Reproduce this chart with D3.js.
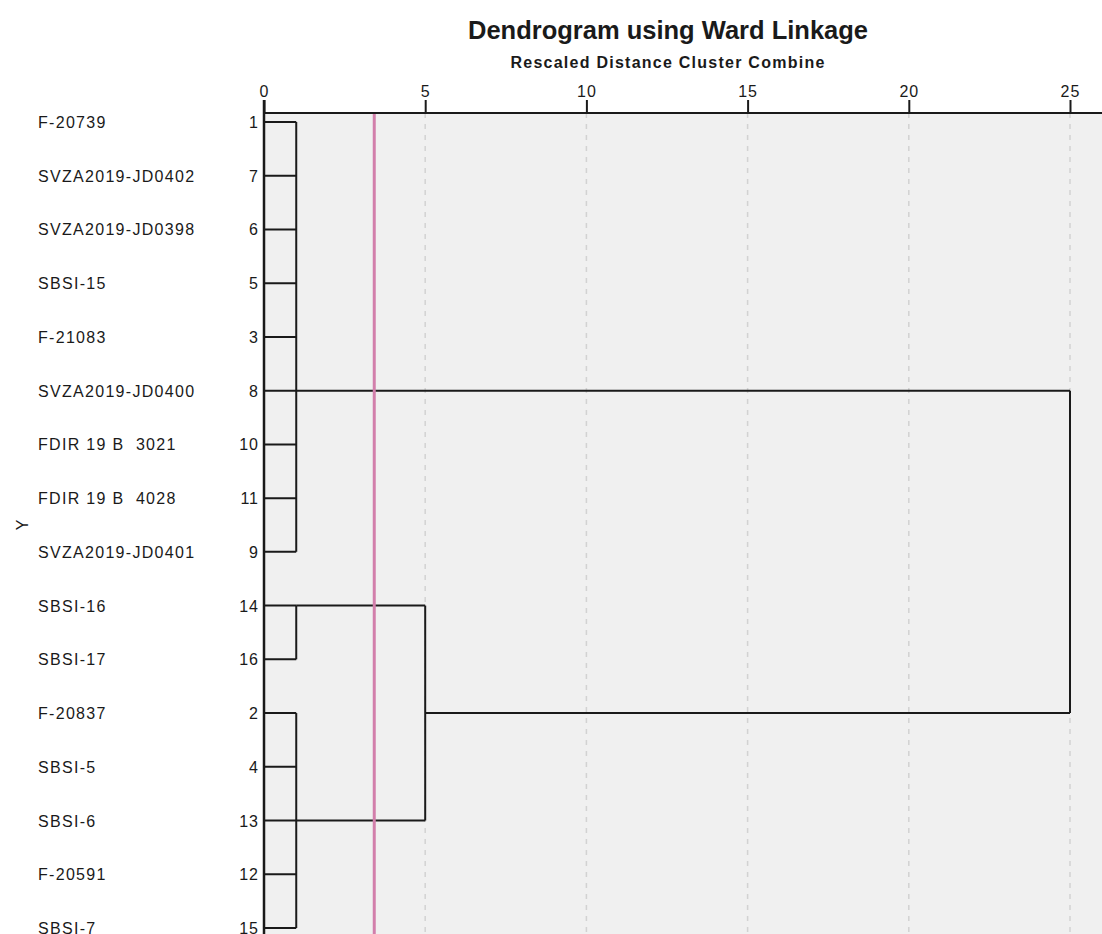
<!DOCTYPE html>
<html>
<head>
<meta charset="utf-8">
<script src="https://cdn.jsdelivr.net/npm/d3@7"></script>
<style>
  body { margin: 0; background: #fff; }
  text { font-family: "Liberation Sans", Arial, sans-serif; fill: #1a1a1a; white-space: pre; }
</style>
</head>
<body>
<div class="usable"></div>
<script>
// leaves, top to bottom
const leafLabels = ["F-20739", "SVZA2019-JD0402", "SVZA2019-JD0398", "SBSI-15", "F-21083",
    "SVZA2019-JD0400", "FDIR 19 B  3021", "FDIR 19 B  4028", "SVZA2019-JD0401",
    "SBSI-16", "SBSI-17", "F-20837", "SBSI-5", "SBSI-6", "F-20591", "SBSI-7"];
const caseNums = [1, 7, 6, 5, 3, 8, 10, 11, 9, 14, 16, 2, 4, 13, 12, 15];

// merges: children are leaf rows ("L") or earlier merges ("M")
const mergeChildren = [
    ["L0", "L1", "L2", "L3", "L4", "L5", "L6", "L7", "L8"],
    ["L9", "L10"],
    ["L11", "L12", "L13", "L14", "L15"],
    ["M1", "M2"],
    ["M0", "M3"]
];
const mergeDist = [1.0, 1.0, 1.0, 5.0, 25.0];
const mergeRow = [5, 9, 13, 11, null]; // row where the link leaves the cluster

const tickVals = [0, 5, 10, 15, 20, 25];
const cutDist = 3.42;

const W = 1102, H = 934;
const plotLeft = 264, plotTop = 113;

let svg = d3.select(".usable").append("svg")
    .attr("width", W)
    .attr("height", H);

let x = d3.scaleLinear().domain([0, 25]).range([plotLeft, 1070]);
let y = d3.scalePoint().domain(d3.range(leafLabels.length)).range([122, 928]);

// plot background
svg.append("rect")
    .attr("x", plotLeft).attr("y", plotTop)
    .attr("width", W - plotLeft).attr("height", H - plotTop)
    .attr("fill", "#f0f0f0");

// dashed grid
svg.append("g").selectAll("line")
    .data(tickVals.filter(d => d > 0))
    .join("line")
    .attr("x1", d => x(d)).attr("x2", d => x(d))
    .attr("y1", plotTop).attr("y2", H)
    .attr("stroke", "#d2d2d2")
    .attr("stroke-width", 1.5)
    .attr("stroke-dasharray", "5,6");

// top axis
let axis = svg.append("g")
    .attr("transform", `translate(0,${plotTop})`)
    .call(d3.axisTop(x).tickValues(tickVals).tickSize(13).tickPadding(3).tickSizeOuter(0));
axis.select(".domain").remove();
axis.selectAll(".tick line").attr("stroke", "#1a1a1a").attr("stroke-width", 2);
axis.selectAll(".tick text")
    .style("font-family", "'Liberation Sans', Arial, sans-serif")
    .style("font-size", "16px")
    .style("letter-spacing", "1px")
    .attr("fill", "#1a1a1a");

svg.append("line")
    .attr("x1", plotLeft).attr("x2", W)
    .attr("y1", plotTop).attr("y2", plotTop)
    .attr("stroke", "#1a1a1a").attr("stroke-width", 2);

// vertical axis line
svg.append("line")
    .attr("x1", plotLeft).attr("x2", plotLeft)
    .attr("y1", 100).attr("y2", H)
    .attr("stroke", "#1a1a1a").attr("stroke-width", 2.5);

// dendrogram links
let links = svg.append("g")
    .attr("fill", "none")
    .attr("stroke", "#1a1a1a")
    .attr("stroke-width", 2);

function nodeInfo(id) {
    let i = +id.slice(1);
    if (id[0] === "L") return { row: i, dist: 0 };
    return { row: mergeRow[i], dist: mergeDist[i] };
}

mergeChildren.forEach((kids, m) => {
    let xm = x(mergeDist[m]);
    let rows = [];
    kids.forEach(k => {
        let n = nodeInfo(k);
        rows.push(n.row);
        links.append("line")
            .attr("x1", x(n.dist)).attr("x2", xm)
            .attr("y1", y(n.row)).attr("y2", y(n.row));
    });
    links.append("line")
        .attr("x1", xm).attr("x2", xm)
        .attr("y1", y(d3.min(rows))).attr("y2", y(d3.max(rows)));
});

// cut line
svg.append("line")
    .attr("x1", x(cutDist)).attr("x2", x(cutDist))
    .attr("y1", plotTop + 1).attr("y2", H)
    .attr("stroke", "#d27fab")
    .attr("stroke-width", 3);

// leaf labels
svg.append("g").selectAll("text")
    .data(leafLabels)
    .join("text")
    .attr("x", 38)
    .attr("y", (d, i) => y(i) + 6)
    .style("font-size", "16px")
    .style("letter-spacing", "1.3px")
    .text(d => d);

svg.append("g").selectAll("text")
    .data(caseNums)
    .join("text")
    .attr("x", 259)
    .attr("y", (d, i) => y(i) + 6)
    .attr("text-anchor", "end")
    .style("font-size", "16px")
    .style("letter-spacing", "1px")
    .text(d => d);

// Y axis title
svg.append("text")
    .attr("transform", "translate(28,525) rotate(-90)")
    .attr("text-anchor", "middle")
    .style("font-size", "16px")
    .text("Y");

// titles
svg.append("text")
    .attr("x", 668).attr("y", 39)
    .attr("text-anchor", "middle")
    .style("font-size", "25.5px")
    .style("font-weight", "bold")
    .text("Dendrogram using Ward Linkage");

svg.append("text")
    .attr("x", 668).attr("y", 68)
    .attr("text-anchor", "middle")
    .style("font-size", "16px")
    .style("font-weight", "bold")
    .style("letter-spacing", "1.25px")
    .text("Rescaled Distance Cluster Combine");
</script>
</body>
</html>
